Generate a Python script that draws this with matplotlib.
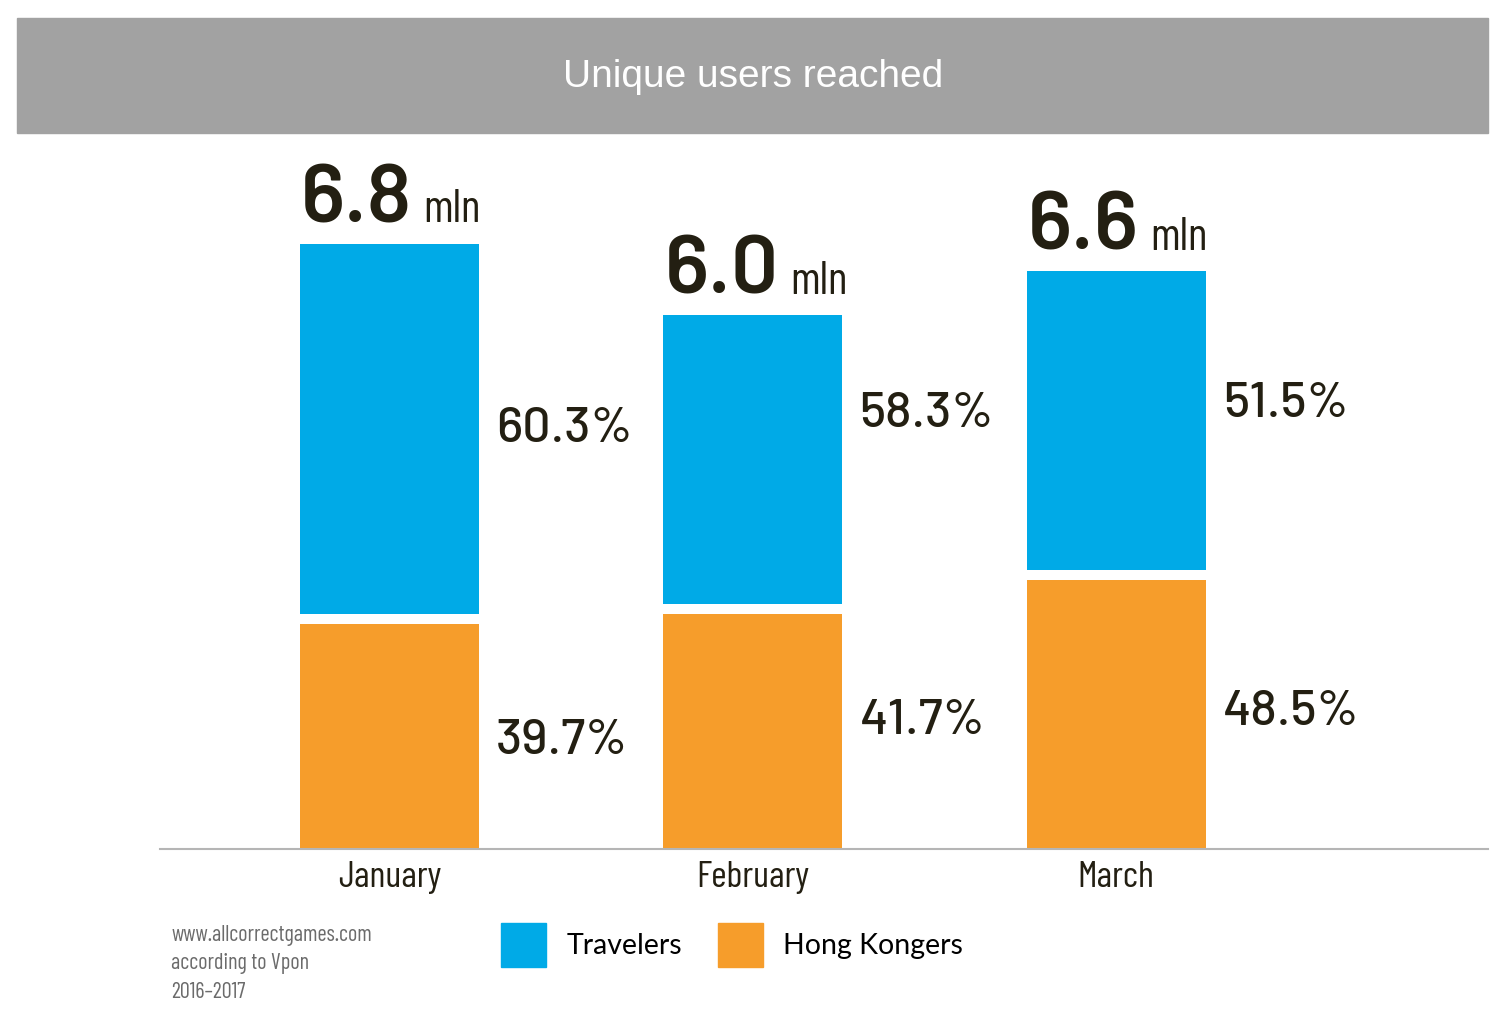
"""
Unique users reached, Jan-Mar: stacked bars Travelers vs Hong Kongers.
"""
import matplotlib
matplotlib.use("Agg")
import matplotlib.pyplot as plt
from matplotlib.patches import Patch, Rectangle

# data (mln users)
months = ["January", "February", "March"]
hk_mln = [2.59, 2.70, 3.09]
travelers_mln = [4.24, 3.32, 3.43]
totals_label = ["6.8", "6.0", "6.6"]
travelers_pct = ["60.3%", "58.3%", "51.5%"]
hk_pct = ["39.7%", "41.7%", "48.5%"]

BLUE = "#00aae7"
ORANGE = "#f69d2b"
DARK = "#231f12"
DIN = ["Barlow", "Roboto", "DejaVu Sans"]
DIN_COND = ["Barlow Condensed", "Roboto Condensed", "DejaVu Sans"]

fig = plt.figure(figsize=(15.06, 10.24), dpi=100)
W, H = 1506, 1024

# gray title banner
fig.patches.append(Rectangle((17 / W, 1 - 133 / H), 1471 / W, 115 / H,
                             transform=fig.transFigure, color="#a2a2a2", zorder=0))
fig.text(753 / W, 1 - 77 / H, "Unique users reached", color="white",
         fontsize=28, family="Liberation Sans", ha="center", va="center")

ax = fig.add_axes([160 / W, 1 - 848.5 / H, 1328 / W, 708.5 / H])
x = list(range(len(months)))
width = 0.493

ax.bar(x, hk_mln, width, color=ORANGE, zorder=2)
ax.bar(x, travelers_mln, width, bottom=hk_mln, color=BLUE, zorder=2)
# white gap between the two segments
ax.hlines(hk_mln, [i - width / 2 for i in x], [i + width / 2 for i in x],
          color="white", lw=7.2, zorder=3)

ax.set_xlim(-0.631, 3.023)
ax.set_ylim(0, 8)

# percent labels
pct_y_tr = [4.79, 4.96, 5.07]
pct_y_hk = [1.27, 1.49, 1.59]
for i in x:
    ax.text(i + width / 2 + 0.047, pct_y_tr[i], travelers_pct[i], fontsize=36,
            family=DIN, fontweight="medium", color=DARK, va="center_baseline", ha="left")
    ax.text(i + width / 2 + 0.047, pct_y_hk[i], hk_pct[i], fontsize=36,
            family=DIN, fontweight="medium", color=DARK, va="center_baseline", ha="left")

# totals above bars
for i in x:
    top = hk_mln[i] + travelers_mln[i]
    t = ax.annotate(totals_label[i], xy=(i - width / 2, top), xytext=(1, 15.5),
                    textcoords="offset points", fontsize=60, fontweight="semibold",
                    family=DIN, color=DARK, ha="left", va="baseline")
    ax.annotate("mln", xy=(1, top), xycoords=(t, "data"), xytext=(8, 15.5),
                textcoords="offset points", fontsize=33, family=DIN_COND,
                color=DARK, ha="left", va="baseline")

ax.set_xticks(x)
ax.set_xticklabels(months, fontsize=27, family=DIN_COND, color=DARK)
ax.tick_params(axis="x", length=0, pad=9)
ax.set_yticks([])
for s in ["top", "left", "right"]:
    ax.spines[s].set_visible(False)
ax.spines["bottom"].set_color("#b5b5b5")
ax.spines["bottom"].set_linewidth(1.5)
ax.set_facecolor("none")

# footer
for j, line in enumerate(["www.allcorrectgames.com", "according to Vpon", "2016\u20132017"]):
    fig.text(171 / W, 1 - (935 + 29 * j) / H, line, fontsize=16, family=DIN_COND,
             color="#6b6b6b", ha="left", va="center")

# legend
handles = [Patch(color=BLUE, label="Travelers"), Patch(color=ORANGE, label="Hong Kongers")]
fig.legend(handles=handles, loc="center left", bbox_to_anchor=(501 / W, 1 - 945 / H),
           ncol=2, frameon=False, prop={"family": "Lato", "size": 20.5},
           handlelength=1.58, handleheight=2.0, handletextpad=0.72,
           columnspacing=1.25, borderpad=0, borderaxespad=0)

fig.savefig("out.png", dpi=100)
